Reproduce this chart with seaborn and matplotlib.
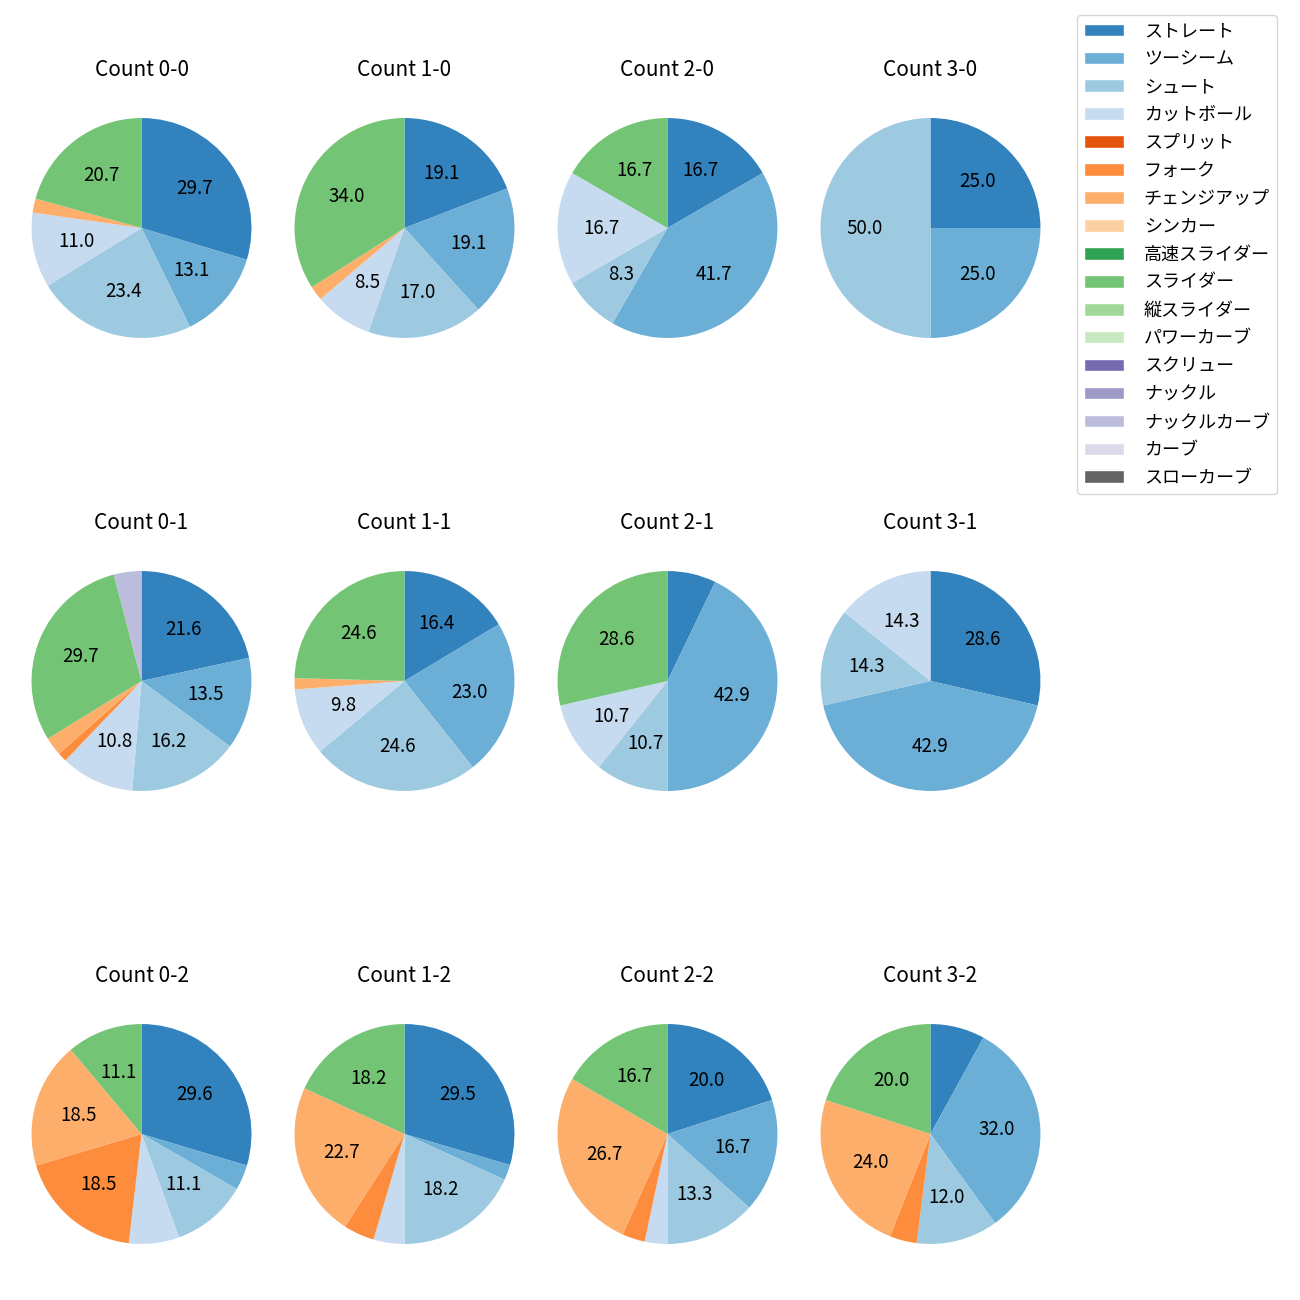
import matplotlib
matplotlib.use("Agg")
import matplotlib.pyplot as plt
import seaborn as sns
from matplotlib.patches import Patch

sns.set_theme(style="white")
plt.rcParams["font.family"] = ["Noto Sans CJK JP", "DejaVu Sans"]
plt.rcParams["text.color"] = "black"

PITCH_TYPES = [
    "ストレート", "ツーシーム", "シュート", "カットボール", "スプリット", "フォーク",
    "チェンジアップ", "シンカー", "高速スライダー", "スライダー", "縦スライダー",
    "パワーカーブ", "スクリュー", "ナックル", "ナックルカーブ", "カーブ", "スローカーブ",
]

# pitch counts per ball-strike count, in PITCH_TYPES order
COUNT_0_0 = [43, 19, 34, 16, 0, 0, 3, 0, 0, 30, 0, 0, 0, 0, 0, 0, 0]
COUNT_1_0 = [9, 9, 8, 4, 0, 0, 1, 0, 0, 16, 0, 0, 0, 0, 0, 0, 0]
COUNT_2_0 = [2, 5, 1, 2, 0, 0, 0, 0, 0, 2, 0, 0, 0, 0, 0, 0, 0]
COUNT_3_0 = [1, 1, 2, 0, 0, 0, 0, 0, 0, 0, 0, 0, 0, 0, 0, 0, 0]
COUNT_0_1 = [16, 10, 12, 8, 0, 1, 2, 0, 0, 22, 0, 0, 0, 0, 3, 0, 0]
COUNT_1_1 = [10, 14, 15, 6, 0, 0, 1, 0, 0, 15, 0, 0, 0, 0, 0, 0, 0]
COUNT_2_1 = [2, 12, 3, 3, 0, 0, 0, 0, 0, 8, 0, 0, 0, 0, 0, 0, 0]
COUNT_3_1 = [2, 3, 1, 1, 0, 0, 0, 0, 0, 0, 0, 0, 0, 0, 0, 0, 0]
COUNT_0_2 = [8, 1, 3, 2, 0, 5, 5, 0, 0, 3, 0, 0, 0, 0, 0, 0, 0]
COUNT_1_2 = [13, 1, 8, 2, 0, 2, 10, 0, 0, 8, 0, 0, 0, 0, 0, 0, 0]
COUNT_2_2 = [6, 5, 4, 1, 0, 1, 8, 0, 0, 5, 0, 0, 0, 0, 0, 0, 0]
COUNT_3_2 = [2, 8, 3, 0, 0, 1, 6, 0, 0, 5, 0, 0, 0, 0, 0, 0, 0]

COUNTS = {
    "0-0": COUNT_0_0, "1-0": COUNT_1_0, "2-0": COUNT_2_0, "3-0": COUNT_3_0,
    "0-1": COUNT_0_1, "1-1": COUNT_1_1, "2-1": COUNT_2_1, "3-1": COUNT_3_1,
    "0-2": COUNT_0_2, "1-2": COUNT_1_2, "2-2": COUNT_2_2, "3-2": COUNT_3_2,
}


def autopct(p: float) -> str:
    return f"{p:.1f}" if p > 8.1 else ""


def main() -> None:
    colors = [plt.get_cmap("tab20c")(i) for i in range(len(PITCH_TYPES))]
    fig, axes = plt.subplots(3, 4, figsize=(13, 13))
    fig.subplots_adjust(left=0.0158, right=0.8088, bottom=0.0123, top=0.94, wspace=0.087, hspace=0.51)

    for ax, (name, values) in zip(axes.flat, COUNTS.items()):
        keep = [i for i, v in enumerate(values) if v > 0]
        ax.pie(
            [values[i] for i in keep],
            colors=[colors[i] for i in keep],
            autopct=autopct,
            startangle=90,
            counterclock=False,
            wedgeprops={"linewidth": 0},
            textprops={"fontsize": 13.5, "color": "black"},
        )
        ax.set_xlim(-1.1, 1.1)
        ax.set_ylim(-1.1, 1.1)
        ax.set_aspect("equal")
        ax.set_title(f"Count {name}", fontsize=15, pad=22)

    handles = [Patch(facecolor=c, label=t) for c, t in zip(colors, PITCH_TYPES)]
    fig.legend(
        handles=handles, loc="upper left", bbox_to_anchor=(1077 / 1300, 1 - 15 / 1300),
        borderaxespad=0, fontsize=13, labelspacing=0.55, handlelength=2.2,
        handletextpad=1.1, frameon=True,
    )
    plt.savefig("out.png", dpi=100)
    plt.close()


if __name__ == "__main__":
    main()
